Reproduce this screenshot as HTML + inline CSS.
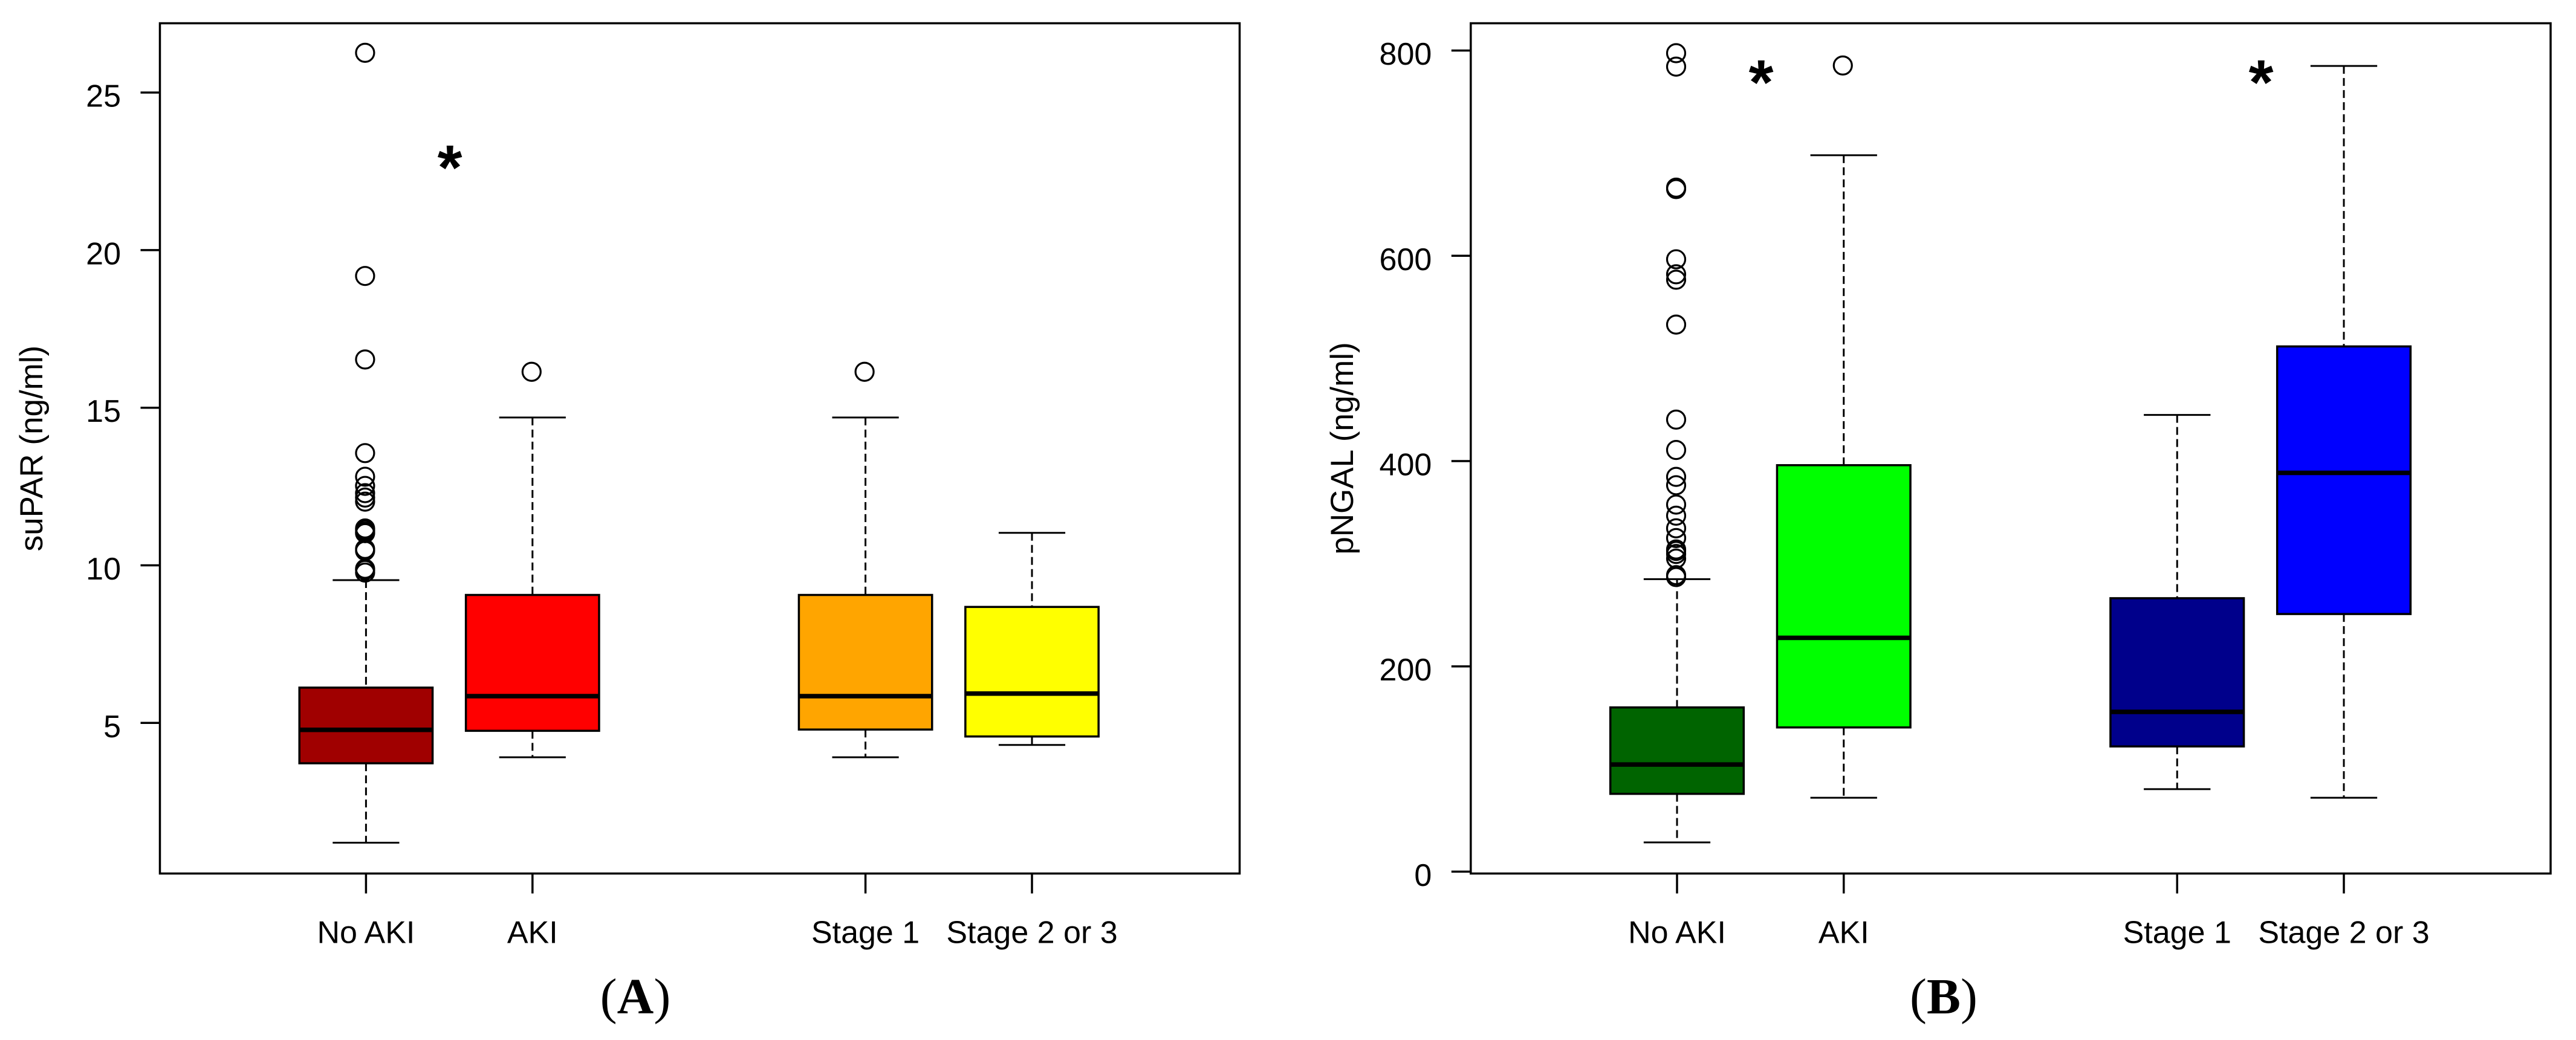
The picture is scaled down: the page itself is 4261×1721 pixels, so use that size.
<!DOCTYPE html>
<html lang="en">
<head>
<meta charset="utf-8">
<title>suPAR and pNGAL box plots</title>
<style>
html,body{margin:0;padding:0;background:#fff;}
svg{display:block;}
text{fill:#000;}
.sans{font-family:"Liberation Sans",Arial,sans-serif;font-size:52px;}
.serif{font-family:"Liberation Serif","Times New Roman",serif;font-size:84px;}
.star{font-family:"Liberation Sans",Arial,sans-serif;font-weight:bold;font-size:105px;}
</style>
</head>
<body>
<svg id="figure" xmlns="http://www.w3.org/2000/svg" width="4261" height="1721" viewBox="0 0 4261 1721">
<rect x="0" y="0" width="4261" height="1721" fill="#ffffff"/>
<text class="serif" x="1051" y="1677" text-anchor="middle">(<tspan font-weight="bold">A</tspan>)</text>
<text class="serif" x="3215" y="1677" text-anchor="middle">(<tspan font-weight="bold">B</tspan>)</text>
</svg>
<script>
// Shared categories
const categories = ['No AKI', 'AKI', 'Stage 1', 'Stage 2 or 3'];
const categorySlots = [1, 2, 4, 5];

// Panel A: suPAR (ng/ml)
const supTicks = [5, 10, 15, 20, 25];
const supQ1 = [3.72, 4.75, 4.79, 4.57];
const supMedian = [4.78, 5.85, 5.85, 5.93];
const supQ3 = [6.12, 9.06, 9.06, 8.68];
const supWhiskerLow = [1.20, 3.91, 3.91, 4.30];
const supWhiskerHigh = [9.53, 14.69, 14.69, 11.03];
const supOutliersNoAki = [26.26, 19.18, 16.53, 13.56, 12.81, 12.52, 12.29, 12.15, 12.02, 11.17, 11.12, 11.06, 11.02, 10.52, 10.46, 9.89, 9.85, 9.77];
const supOutliersAki = [16.14];
const supOutliersStage1 = [16.14];
const supOutliersStage23 = [];
const supColors = ['#a00000', '#ff0000', '#ffa500', '#ffff00'];

// Panel B: pNGAL (ng/ml)
const ngalTicks = [0, 200, 400, 600, 800];
const ngalQ1 = [75.8, 140.5, 122, 251];
const ngalMedian = [104.4, 227.8, 155.7, 388.5];
const ngalQ3 = [160, 396, 266.4, 511.7];
const ngalWhiskerLow = [28.5, 72, 80.4, 72];
const ngalWhiskerHigh = [285, 698, 445, 785];
const ngalOutliersNoAki = [797.4, 784.3, 666.4, 665, 596.6, 582, 576.7, 533, 440.4, 410.8, 384.6, 376.5, 357.6, 346.8, 334.5, 325, 313.9, 312.4, 309.5, 305, 288.9, 287];
const ngalOutliersAki = [785.4];
const ngalOutliersStage1 = [];
const ngalOutliersStage23 = [];
const ngalColors = ['#006400', '#00ff00', '#00008b', '#0000ff'];

const NS = 'http://www.w3.org/2000/svg';
const svg = document.getElementById('figure');

function mk(parent, tag, attrs) {
  const el = document.createElementNS(NS, tag);
  for (const k in attrs) el.setAttribute(k, attrs[k]);
  parent.appendChild(el);
  return el;
}

function drawPanel(cfg) {
  const yScale = v => cfg.yZero - (v - cfg.yRef) * cfg.yPerUnit;
  const xScale = s => cfg.xFirst + (s - 1) * cfg.xPerSlot;

  const g = mk(svg, 'g', {});
  
  

  // Plot frame
  const frame = mk(g, 'rect', {x: cfg.left, y: cfg.top, width: cfg.right - cfg.left, height: cfg.bottom - cfg.top, fill: 'none', stroke: '#000', 'stroke-width': 3.5});
  
  

  // Y axis
  cfg.ticks.forEach(t => {
    const y = yScale(t);
    const tick = mk(g, 'line', {x1: cfg.left, x2: cfg.left - 32, y1: y, y2: y, stroke: '#000', 'stroke-width': 3.5});
    
    
    const label = mk(g, 'text', {x: cfg.left - 64.5, y: y + 23.5, 'text-anchor': 'end', class: 'sans'});
    label.textContent = String(t);
    
    
  });

  const title = mk(g, 'text', {x: 0, y: 0, 'text-anchor': 'middle', class: 'sans', transform: 'translate(' + cfg.titleX + ',742) rotate(-90)'});
  title.style.fontSize = '53px';
  title.textContent = cfg.title;
  
  

  // Boxes
  categories.forEach((cat, i) => {
    const key = cfg.id + '-' + cat.toLowerCase().replace(/ /g, '-');
    const cx = xScale(categorySlots[i]);
    const halfBox = cfg.xPerSlot * 0.4;
    const halfCap = cfg.xPerSlot * 0.2;

    const xTick = mk(g, 'line', {x1: cx, x2: cx, y1: cfg.bottom, y2: cfg.bottom + 33, stroke: '#000', 'stroke-width': 3.5});
    
    

    const xLabel = mk(g, 'text', {x: cx, y: 1560.5, 'text-anchor': 'middle', class: 'sans'});
    xLabel.textContent = cat;
    
    

    const whiskerUp = mk(g, 'line', {x1: cx, x2: cx, y1: yScale(cfg.whiskerHigh[i]), y2: yScale(cfg.q3[i]), stroke: '#000', 'stroke-width': 3, 'stroke-dasharray': '13 7'});
    
    

    const whiskerDown = mk(g, 'line', {x1: cx, x2: cx, y1: yScale(cfg.q1[i]), y2: yScale(cfg.whiskerLow[i]), stroke: '#000', 'stroke-width': 3, 'stroke-dasharray': '13 7'});
    
    

    const capUp = mk(g, 'line', {x1: cx - halfCap, x2: cx + halfCap, y1: yScale(cfg.whiskerHigh[i]), y2: yScale(cfg.whiskerHigh[i]), stroke: '#000', 'stroke-width': 3});
    
    

    const capDown = mk(g, 'line', {x1: cx - halfCap, x2: cx + halfCap, y1: yScale(cfg.whiskerLow[i]), y2: yScale(cfg.whiskerLow[i]), stroke: '#000', 'stroke-width': 3});
    
    

    const box = mk(g, 'rect', {x: cx - halfBox, y: yScale(cfg.q3[i]), width: halfBox * 2, height: yScale(cfg.q1[i]) - yScale(cfg.q3[i]), fill: cfg.colors[i], stroke: '#000', 'stroke-width': 3.5});
    
    

    const median = mk(g, 'line', {x1: cx - halfBox, x2: cx + halfBox, y1: yScale(cfg.median[i]), y2: yScale(cfg.median[i]), stroke: '#000', 'stroke-width': 7.5});
    
    

    cfg.outliers[i].forEach((v, n) => {
      const c = mk(g, 'circle', {cx: cx - 1.5, cy: yScale(v), r: 15, fill: 'none', stroke: '#000', 'stroke-width': 3.2});
      
      
    });
  });

  // Significance markers
  cfg.stars.forEach((s, n) => {
    const star = mk(g, 'text', {x: s[0], y: s[1], 'text-anchor': 'middle', class: 'star'});
    star.textContent = '*';
    
    
  });
}

drawPanel({
  id: 'panel-a', title: 'suPAR (ng/ml)', titleX: 70,
  left: 264.5, right: 2050.5, top: 38.5, bottom: 1445.5,
  yRef: 5, yZero: 1196.3, yPerUnit: 52.16,
  xFirst: 605.4, xPerSlot: 275.4,
  ticks: supTicks, q1: supQ1, median: supMedian, q3: supQ3,
  whiskerLow: supWhiskerLow, whiskerHigh: supWhiskerHigh,
  outliers: [supOutliersNoAki, supOutliersAki, supOutliersStage1, supOutliersStage23],
  colors: supColors,
  stars: [[744, 313]]
});

drawPanel({
  id: 'panel-b', title: 'pNGAL (ng/ml)', titleX: 2238,
  left: 2432.8, right: 4219, top: 38.5, bottom: 1445.5,
  yRef: 0, yZero: 1442.4, yPerUnit: 1.6985,
  xFirst: 2774, xPerSlot: 275.75,
  ticks: ngalTicks, q1: ngalQ1, median: ngalMedian, q3: ngalQ3,
  whiskerLow: ngalWhiskerLow, whiskerHigh: ngalWhiskerHigh,
  outliers: [ngalOutliersNoAki, ngalOutliersAki, ngalOutliersStage1, ngalOutliersStage23],
  colors: ngalColors,
  stars: [[2913, 172], [3740, 172]]
});
</script>
</body>
</html>
